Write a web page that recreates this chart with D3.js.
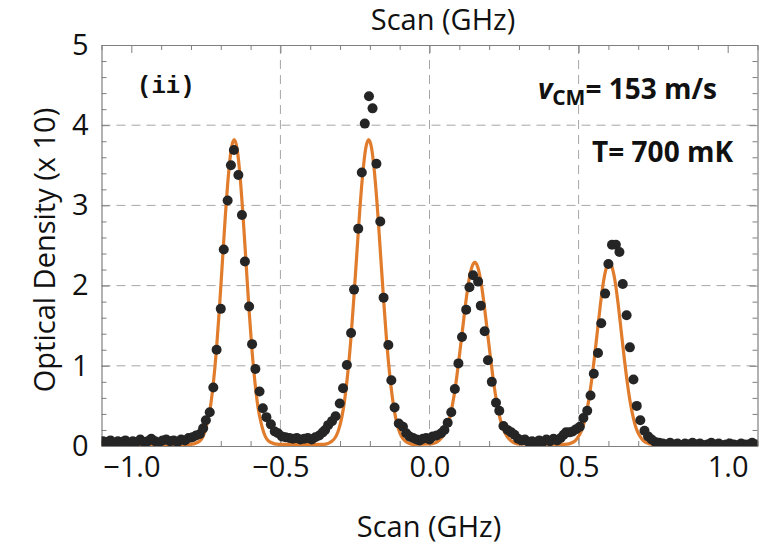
<!DOCTYPE html>
<html><head><meta charset="utf-8">
<script src="https://cdn.jsdelivr.net/npm/d3@7"></script>
<style>body{margin:0;background:#fff}svg{display:block}</style>
</head><body>
<svg id="chart" width="770" height="547"></svg>
<script>
// ---------- data ----------
const xTicks = [-1.0, -0.5, 0.0, 0.5, 1.0];
const xTickLabels = ["\u22121.0", "\u22120.5", "0.0", "0.5", "1.0"];
const yTicks = [0, 1, 2, 3, 4, 5];
const yTickLabels = ["0", "1", "2", "3", "4", "5"];
const xGrid = [-0.5, 0.0, 0.5];
const yGrid = [1, 2, 3, 4];

// measured points (Scan GHz, OD x10)
const scanX = [
 -1.095,-1.083,-1.070,-1.058,-1.045,-1.033,-1.020,-1.008,-0.995,-0.983,-0.970,-0.958,-0.945,-0.933,-0.920,-0.908,-0.895,-0.883,-0.870,-0.858,-0.845,-0.833,-0.820,-0.808,-0.795,-0.783,
 -0.770,-0.759,-0.750,-0.737,-0.725,-0.714,-0.700,-0.690,-0.677,-0.666,-0.656,-0.641,-0.629,-0.619,-0.605,-0.595,-0.584,-0.570,-0.559,-0.547,-0.532,-0.519,
 -0.508,-0.495,-0.483,-0.470,-0.458,-0.445,-0.433,-0.420,-0.408,-0.395,-0.383,-0.370,-0.358,-0.350,-0.340,-0.327,
 -0.315,-0.301,-0.290,-0.277,-0.263,-0.253,-0.239,-0.227,-0.217,-0.203,-0.191,-0.178,-0.165,-0.154,-0.138,-0.128,-0.117,-0.103,-0.089,
 -0.078,-0.067,-0.055,-0.043,-0.033,-0.022,-0.011,0.000,0.011,0.024,0.039,0.050,
 0.061,0.073,0.085,0.097,0.109,0.123,0.134,0.146,0.163,0.172,0.185,0.196,0.209,0.223,0.234,0.248,0.262,0.274,0.285,
 0.297,0.309,0.320,0.332,0.344,0.356,0.368,0.380,0.392,0.404,0.416,0.428,0.440,0.450,0.458,0.470,0.480,0.492,0.504,
 0.516,0.529,0.540,0.551,0.565,0.576,0.589,0.600,0.612,0.625,0.637,0.648,0.661,0.672,0.684,0.695,0.707,0.721,0.733,0.745,0.757,0.770,
 0.782,0.795,0.807,0.820,0.832,0.845,0.857,0.870,0.882,0.895,0.907,0.920,0.932,0.945,0.957,0.970,0.982,0.995,1.007,1.020,1.032,1.045,1.057,1.070,1.082,1.095
];
const odValues = [
 0.06,0.05,0.07,0.04,0.06,0.05,0.07,0.04,0.06,0.05,0.08,0.05,0.06,0.09,0.06,0.04,0.07,0.08,0.06,0.07,0.05,0.08,0.07,0.10,0.11,0.13,
 0.15,0.22,0.32,0.42,0.73,1.20,1.71,2.45,3.06,3.50,3.69,3.38,2.88,2.30,1.74,1.27,0.96,0.68,0.47,0.36,0.27,0.18,
 0.16,0.12,0.11,0.10,0.09,0.10,0.08,0.09,0.10,0.08,0.11,0.13,0.17,0.20,0.26,0.31,
 0.37,0.53,0.72,1.01,1.41,1.95,2.71,3.41,4.02,4.36,4.21,3.52,2.80,1.85,1.26,0.82,0.48,0.28,0.24,
 0.16,0.12,0.10,0.08,0.07,0.09,0.10,0.08,0.12,0.13,0.16,0.20,
 0.29,0.42,0.71,1.03,1.36,1.70,1.98,2.13,2.05,1.75,1.43,1.07,0.80,0.54,0.44,0.25,0.20,0.17,0.14,
 0.09,0.07,0.08,0.05,0.06,0.04,0.07,0.05,0.08,0.06,0.09,0.07,0.10,0.14,0.17,0.17,0.18,0.21,0.24,
 0.35,0.44,0.63,0.90,1.16,1.53,1.90,2.27,2.51,2.51,2.42,2.02,1.63,1.23,0.83,0.50,0.32,0.19,0.12,0.08,0.05,0.04,
 0.03,0.02,0.04,0.02,0.03,0.01,0.03,0.02,0.04,0.02,0.03,0.01,0.02,0.04,0.02,0.03,0.01,0.02,0.03,0.02,0.01,0.03,0.02,0.02,0.04,0.02
];

// fitted curve
const fitX = [
 -1.100,-0.805,-0.775,-0.755,-0.745,-0.735,-0.725,-0.715,-0.705,-0.695,-0.685,-0.675,-0.665,-0.655,-0.645,-0.635,-0.625,-0.615,-0.605,-0.595,-0.585,-0.575,-0.565,-0.555,-0.535,-0.505,
 -0.354,-0.324,-0.304,-0.294,-0.284,-0.274,-0.264,-0.254,-0.244,-0.234,-0.224,-0.214,-0.204,-0.194,-0.184,-0.174,-0.164,-0.154,-0.144,-0.134,-0.124,-0.114,-0.104,-0.084,-0.054,
 0.002,0.032,0.052,0.062,0.072,0.082,0.092,0.102,0.112,0.122,0.132,0.142,0.152,0.162,0.172,0.182,0.192,0.202,0.212,0.222,0.232,0.242,0.252,0.272,0.302,
 0.453,0.483,0.503,0.513,0.523,0.533,0.543,0.553,0.563,0.573,0.583,0.593,0.603,0.613,0.623,0.633,0.643,0.653,0.663,0.673,0.683,0.693,0.703,0.723,0.753,1.100
];
const fitY = [
 0.02,0.02,0.05,0.16,0.29,0.48,0.78,1.18,1.69,2.27,2.85,3.35,3.70,3.82,3.70,3.35,2.85,2.27,1.69,1.18,0.78,0.48,0.29,0.16,0.05,0.02,
 0.02,0.07,0.21,0.36,0.59,0.91,1.32,1.83,2.38,2.93,3.39,3.71,3.82,3.71,3.39,2.93,2.38,1.83,1.32,0.91,0.59,0.36,0.21,0.07,0.02,
 0.025,0.07,0.17,0.27,0.42,0.62,0.88,1.18,1.49,1.80,2.06,2.23,2.29,2.23,2.06,1.80,1.49,1.18,0.88,0.62,0.42,0.27,0.17,0.07,0.025,
 0.02,0.05,0.14,0.22,0.36,0.55,0.80,1.10,1.43,1.76,2.04,2.22,2.29,2.22,2.04,1.76,1.43,1.10,0.80,0.55,0.36,0.22,0.14,0.05,0.02,0.02
];

const points = scanX.map((x, i) => ({x, y: odValues[i]}));
const fit = fitX.map((x, i) => ({x, y: fitY[i]}));

// ---------- drawing ----------
(function draw() {
const svg = d3.select("#chart");
const L = 101.5, R = 757.5, T = 45, B = 446;
const x = d3.scaleLinear().domain([-1.1, 1.1]).range([L, R]);
const y = d3.scaleLinear().domain([0, 5]).range([B, T]);
const FONT = "'Open Sans', 'DejaVu Sans', sans-serif";
const frameColor = "#7f7f7f";

svg.append("defs").append("clipPath").attr("id", "clip")
  .append("rect").attr("x", L).attr("y", T).attr("width", R - L).attr("height", B - T);

// grid
const grid = svg.append("g").attr("stroke", "#a6a6a6").attr("stroke-width", 1).attr("stroke-dasharray", "9,6");
grid.selectAll(".vg").data(xGrid).join("line").attr("class", "vg")
  .attr("x1", d => x(d)).attr("x2", d => x(d)).attr("y1", T).attr("y2", B);
grid.selectAll(".hg").data(yGrid).join("line").attr("class", "hg")
  .attr("x1", L).attr("x2", R).attr("y1", d => y(d)).attr("y2", d => y(d));

const minorX = d3.range(-11, 12).map(k => k / 10).filter(v => !xTicks.some(t => Math.abs(t - v) < 1e-9));
const minorY = d3.range(0, 26).map(k => k / 5).filter(v => !yTicks.some(t => Math.abs(t - v) < 1e-9));

function styleAxis(g) {
  g.select(".domain").attr("stroke", frameColor).attr("stroke-width", 1.2);
  g.selectAll(".tick line").attr("stroke", frameColor).attr("stroke-width", 1);
}
function minor(g) { g.select(".domain").remove(); g.selectAll("line").attr("stroke", frameColor); }

const gBottom = svg.append("g").attr("transform", `translate(0,${B})`)
  .call(d3.axisBottom(x).tickValues(xTicks).tickSizeInner(-8).tickSizeOuter(0).tickPadding(14)
    .tickFormat((d, i) => xTickLabels[i]));
styleAxis(gBottom);
gBottom.selectAll("text").attr("font-family", FONT).attr("font-size", 29).attr("fill", "#111").attr("dy", "0.6em");
svg.append("g").attr("transform", `translate(0,${B})`)
  .call(d3.axisBottom(x).tickValues(minorX).tickSizeInner(-5).tickSizeOuter(0).tickFormat("")).call(minor);

const gTop = svg.append("g").attr("transform", `translate(0,${T})`)
  .call(d3.axisTop(x).tickValues(xTicks).tickSizeInner(-8).tickSizeOuter(0).tickFormat(""));
styleAxis(gTop);
svg.append("g").attr("transform", `translate(0,${T})`)
  .call(d3.axisTop(x).tickValues(minorX).tickSizeInner(-5).tickSizeOuter(0).tickFormat("")).call(minor);

const gLeft = svg.append("g").attr("transform", `translate(${L},0)`)
  .call(d3.axisLeft(y).tickValues(yTicks).tickSizeInner(-8).tickSizeOuter(0).tickPadding(13)
    .tickFormat((d, i) => yTickLabels[i]));
styleAxis(gLeft);
gLeft.selectAll("text").attr("font-family", FONT).attr("font-size", 29).attr("fill", "#111");
svg.append("g").attr("transform", `translate(${L},0)`)
  .call(d3.axisLeft(y).tickValues(minorY).tickSizeInner(-5).tickSizeOuter(0).tickFormat("")).call(minor);

const gRight = svg.append("g").attr("transform", `translate(${R},0)`)
  .call(d3.axisRight(y).tickValues(yTicks).tickSizeInner(-8).tickSizeOuter(0).tickFormat(""));
styleAxis(gRight);
svg.append("g").attr("transform", `translate(${R},0)`)
  .call(d3.axisRight(y).tickValues(minorY).tickSizeInner(-5).tickSizeOuter(0).tickFormat("")).call(minor);

// fit curve
const plot = svg.append("g").attr("clip-path", "url(#clip)");
plot.append("path").datum(fit)
  .attr("fill", "none").attr("stroke", "#e07c2c").attr("stroke-width", 3.2)
  .attr("stroke-linejoin", "round")
  .attr("d", d3.line().x(d => x(d.x)).y(d => y(d.y)).curve(d3.curveMonotoneX));

// data points
plot.selectAll("circle.pt").data(points).join("circle")
  .attr("class", "pt")
  .attr("cx", d => x(d.x)).attr("cy", d => y(d.y)).attr("r", 5)
  .attr("fill", "#252525");

// titles
svg.append("text").attr("x", 443).attr("y", 30).attr("text-anchor", "middle")
  .attr("font-family", FONT).attr("font-size", 29).attr("fill", "#111").text("Scan (GHz)");
svg.append("text").attr("x", 429).attr("y", 537).attr("text-anchor", "middle")
  .attr("font-family", FONT).attr("font-size", 29).attr("fill", "#111").text("Scan (GHz)");
svg.append("text").attr("transform", "translate(55,250) rotate(-90)").attr("text-anchor", "middle")
  .attr("font-family", FONT).attr("font-size", 29).attr("fill", "#111").text("Optical Density (x 10)");

// annotations
svg.append("text").attr("x", 137).attr("y", 93)
  .attr("font-family", "'Liberation Mono', 'DejaVu Sans Mono', monospace").attr("font-weight", "bold")
  .attr("font-size", 24).attr("fill", "#111").text("(ii)");
const vt = svg.append("text").attr("x", 717).attr("y", 99).attr("text-anchor", "end")
  .attr("font-family", FONT).attr("font-weight", "bold").attr("font-size", 28).attr("fill", "#111");
vt.append("tspan").attr("font-style", "italic").text("v");
vt.append("tspan").attr("font-size", 21).attr("dy", 6).text("CM");
vt.append("tspan").attr("dy", -6).text("= 153 m/s");
svg.append("text").attr("x", 733).attr("y", 162).attr("text-anchor", "end")
  .attr("font-family", FONT).attr("font-weight", "bold").attr("font-size", 28).attr("fill", "#111")
  .text("T= 700 mK");
})();
</script>
</body></html>
